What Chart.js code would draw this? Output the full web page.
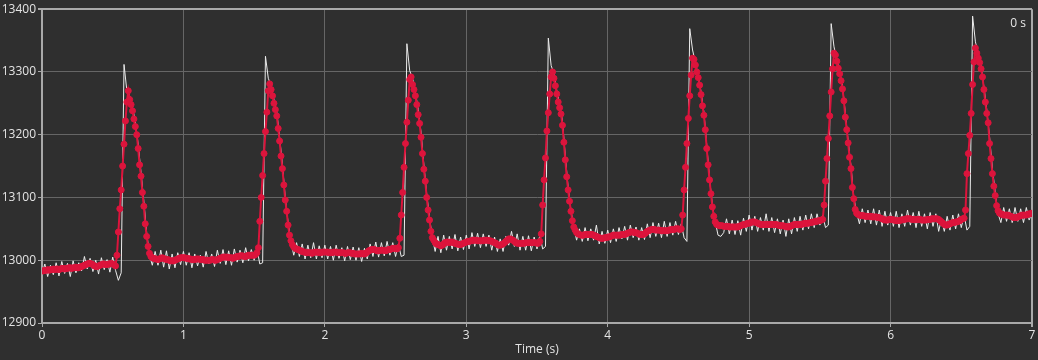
<!DOCTYPE html>
<html>
<head>
<meta charset="utf-8">
<script src="https://cdn.jsdelivr.net/npm/chart.js@4/dist/chart.umd.min.js"></script>
<style>
    html, body { margin: 0; padding: 0; background: #2f2f2f; }
    #wrap { width: 1038px; height: 360px; position: relative; }
</style>
</head>
<body>
<div id="wrap"><canvas id="signalChart"></canvas></div>
<script>
// Sample spacing in seconds
const redStep = 0.01;
const whiteStep = 0.02;

// Axis ticks
const xTicks = [0, 1, 2, 3, 4, 5, 6, 7];
const yTicks = [12900, 13000, 13100, 13200, 13300, 13400];

// Filtered signal (red), one array per second, 0.01 s apart
const red0 = [
    12983, 12983, 12984, 12984, 12985, 12984, 12985, 12985, 12986, 12985,
    12986, 12986, 12985, 12986, 12987, 12987, 12986, 12987, 12987, 12988,
    12988, 12987, 12988, 12988, 12989, 12988, 12988, 12989, 12990, 12991,
    12992, 12993, 12994, 12995, 12995, 12994, 12993, 12991, 12990, 12990,
    12991, 12992, 12993, 12994, 12994, 12993, 12993, 12994, 12994, 12995,
    12994, 12993, 12991, 13008, 13045, 13082, 13112, 13150, 13185, 13222,
    13252, 13270, 13256, 13248, 13238, 13225, 13213, 13200, 13178, 13152,
    13134, 13108, 13086, 13058, 13038, 13022, 13011, 13006, 13004, 13003,
    13002, 13002, 13001, 13002, 13003, 13004, 13003, 13002, 13001, 13001,
    13000, 12999, 12999, 12999, 13000, 13001, 13002, 13003, 13004, 13004
];
const red1 = [
    13004, 13004, 13003, 13003, 13002, 13002, 13001, 13001, 13001, 13002,
    13002, 13002, 13001, 13001, 13001, 13000, 13000, 13000, 13000, 13000,
    13001, 13001, 13000, 13000, 13001, 13002, 13003, 13004, 13005, 13005,
    13005, 13005, 13004, 13004, 13004, 13003, 13004, 13005, 13006, 13006,
    13007, 13007, 13007, 13006, 13006, 13007, 13008, 13008, 13008, 13008,
    13008, 13009, 13012, 13020, 13062, 13100, 13135, 13170, 13205, 13236,
    13270, 13281, 13272, 13262, 13250, 13240, 13230, 13210, 13190, 13166,
    13146, 13120, 13096, 13078, 13056, 13040, 13031, 13025, 13021, 13019,
    13018, 13017, 13016, 13015, 13014, 13013, 13013, 13012, 13012, 13012,
    13012, 13011, 13012, 13013, 13013, 13013, 13012, 13012, 13013, 13013
];
const red2 = [
    13013, 13013, 13013, 13012, 13012, 13012, 13013, 13013, 13013, 13012,
    13012, 13012, 13012, 13012, 13011, 13011, 13012, 13012, 13012, 13011,
    13011, 13010, 13010, 13010, 13010, 13010, 13011, 13010, 13010, 13011,
    13013, 13015, 13016, 13017, 13017, 13017, 13016, 13015, 13015, 13016,
    13016, 13016, 13016, 13015, 13016, 13017, 13017, 13018, 13019, 13019,
    13019, 13018, 13020, 13035, 13072, 13108, 13148, 13186, 13220, 13255,
    13288, 13292, 13280, 13272, 13262, 13248, 13232, 13218, 13196, 13170,
    13145, 13126, 13100, 13080, 13064, 13046, 13036, 13032, 13028, 13026,
    13025, 13024, 13023, 13024, 13026, 13028, 13029, 13029, 13028, 13029,
    13029, 13028, 13027, 13026, 13026, 13025, 13025, 13026, 13027, 13028
];
const red3 = [
    13029, 13030, 13030, 13031, 13031, 13032, 13032, 13032, 13031, 13031,
    13031, 13031, 13031, 13032, 13032, 13032, 13031, 13031, 13030, 13029,
    13028, 13027, 13025, 13024, 13024, 13025, 13026, 13028, 13030, 13032,
    13034, 13034, 13033, 13032, 13030, 13028, 13027, 13027, 13027, 13027,
    13027, 13027, 13028, 13028, 13028, 13028, 13028, 13028, 13028, 13028,
    13027, 13027, 13030, 13042, 13088, 13128, 13163, 13206, 13235, 13265,
    13292, 13300, 13290, 13278, 13265, 13252, 13243, 13233, 13215, 13188,
    13160, 13133, 13112, 13094, 13078, 13063, 13053, 13048, 13044, 13042,
    13041, 13040, 13040, 13040, 13041, 13041, 13041, 13041, 13041, 13041,
    13040, 13039, 13038, 13037, 13036, 13035, 13035, 13035, 13036, 13036
];
const red4 = [
    13037, 13037, 13038, 13039, 13040, 13040, 13040, 13040, 13040, 13040,
    13041, 13041, 13041, 13042, 13043, 13044, 13045, 13045, 13045, 13044,
    13044, 13043, 13042, 13041, 13041, 13041, 13042, 13044, 13046, 13047,
    13048, 13049, 13049, 13049, 13048, 13048, 13048, 13048, 13047, 13047,
    13047, 13047, 13047, 13048, 13048, 13049, 13049, 13049, 13050, 13050,
    13050, 13049, 13050, 13072, 13112, 13148, 13186, 13226, 13262, 13295,
    13322, 13320, 13311, 13300, 13291, 13279, 13264, 13246, 13231, 13208,
    13178, 13152, 13128, 13106, 13085, 13070, 13061, 13057, 13056, 13055,
    13055, 13055, 13054, 13054, 13054, 13054, 13053, 13053, 13053, 13053,
    13053, 13053, 13053, 13054, 13055, 13056, 13057, 13057, 13058, 13059
];
const red5 = [
    13059, 13060, 13061, 13061, 13061, 13060, 13059, 13058, 13057, 13057,
    13057, 13057, 13057, 13057, 13057, 13057, 13057, 13057, 13057, 13057,
    13056, 13056, 13055, 13055, 13055, 13054, 13054, 13053, 13053, 13054,
    13055, 13056, 13057, 13057, 13057, 13057, 13057, 13057, 13058, 13058,
    13059, 13059, 13059, 13060, 13060, 13061, 13061, 13062, 13062, 13063,
    13063, 13064, 13065, 13088, 13126, 13162, 13194, 13230, 13268, 13305,
    13330, 13327, 13317, 13306, 13297, 13286, 13273, 13254, 13228, 13208,
    13187, 13164, 13146, 13116, 13098, 13081, 13075, 13073, 13072, 13071,
    13071, 13071, 13070, 13070, 13070, 13070, 13070, 13069, 13069, 13069,
    13069, 13068, 13068, 13067, 13066, 13065, 13064, 13064, 13064, 13065
];
const red6 = [
    13065, 13065, 13064, 13064, 13063, 13063, 13063, 13064, 13064, 13065,
    13065, 13066, 13066, 13066, 13066, 13065, 13065, 13065, 13065, 13065,
    13065, 13065, 13064, 13064, 13064, 13064, 13065, 13065, 13065, 13066,
    13066, 13066, 13066, 13066, 13065, 13063, 13061, 13059, 13057, 13056,
    13056, 13057, 13058, 13059, 13060, 13060, 13061, 13061, 13062, 13063,
    13065, 13066, 13067, 13080, 13138, 13170, 13199, 13234, 13280, 13316,
    13338, 13330, 13322, 13315, 13305, 13292, 13272, 13252, 13234, 13219,
    13186, 13162, 13138, 13118, 13103, 13087, 13079, 13075, 13074, 13073,
    13072, 13072, 13072, 13072, 13071, 13070, 13069, 13068, 13068, 13068,
    13069, 13070, 13071, 13072, 13072, 13072, 13072, 13073, 13074, 13074
];
const redEnd = [13075];

// Raw signal (white), one array per second, 0.02 s apart
const white0 = [
    12978, 12994, 12974, 12992, 12977, 12996, 12975, 12998, 12979, 12995,
    12974, 12999, 12980, 12996, 12983, 13006, 12986, 13003, 12982, 13000,
    12978, 13004, 12985, 13001, 12981, 13005, 12984, 12968, 12980, 13312,
    13270, 13262, 13244, 13220, 13185, 13140, 13094, 13044, 13008, 12992,
    13014, 12992, 13016, 12989, 13015, 12986, 13010, 12988, 13012, 12993
];
const white1 = [
    13014, 12992, 13012, 12988, 13010, 12991, 13008, 12989, 13014, 12994,
    13010, 12990, 13016, 12995, 13017, 12993, 13015, 12992, 13018, 12997,
    13016, 12996, 13020, 12999, 13017, 13000, 13018, 12994, 12996, 13325,
    13290, 13278, 13256, 13236, 13196, 13152, 13100, 13060, 13030, 13008,
    13028, 13006, 13026, 13002, 13024, 13004, 13028, 13002, 13023, 13004
];
const white2 = [
    13024, 13002, 13022, 13000, 13024, 13003, 13020, 12999, 13022, 13001,
    13021, 13000, 13020, 12998, 13019, 13002, 13026, 13006, 13029, 13005,
    13028, 13007, 13030, 13008, 13028, 13006, 13026, 13006, 13008, 13345,
    13302, 13290, 13268, 13240, 13204, 13152, 13106, 13068, 13036, 13014,
    13038, 13012, 13040, 13016, 13038, 13018, 13041, 13015, 13037, 13017
];
const white3 = [
    13040, 13018, 13044, 13022, 13043, 13020, 13042, 13022, 13040, 13016,
    13037, 13014, 13034, 13014, 13038, 13024, 13046, 13022, 13042, 13016,
    13038, 13016, 13039, 13015, 13037, 13018, 13040, 13018, 13022, 13354,
    13310, 13298, 13270, 13248, 13222, 13166, 13116, 13080, 13052, 13032,
    13050, 13030, 13052, 13031, 13050, 13032, 13056, 13026, 13046, 13027
];
const white4 = [
    13048, 13028, 13050, 13030, 13052, 13034, 13054, 13032, 13056, 13036,
    13053, 13032, 13052, 13033, 13058, 13036, 13060, 13038, 13059, 13036,
    13062, 13038, 13060, 13040, 13062, 13041, 13058, 13036, 13030, 13369,
    13335, 13315, 13294, 13268, 13236, 13184, 13130, 13088, 13062, 13040,
    13038, 13044, 13066, 13042, 13064, 13041, 13063, 13040, 13067, 13046
];
const white5 = [
    13072, 13048, 13070, 13046, 13068, 13048, 13074, 13046, 13068, 13044,
    13066, 13042, 13064, 13038, 13066, 13042, 13068, 13046, 13070, 13048,
    13072, 13050, 13074, 13052, 13074, 13056, 13072, 13052, 13056, 13377,
    13340, 13320, 13300, 13278, 13234, 13190, 13150, 13100, 13076, 13058,
    13082, 13060, 13080, 13058, 13082, 13056, 13080, 13054, 13078, 13056
];
const white6 = [
    13076, 13054, 13078, 13052, 13074, 13054, 13080, 13056, 13076, 13052,
    13078, 13054, 13074, 13050, 13076, 13054, 13074, 13046, 13066, 13046,
    13070, 13048, 13072, 13050, 13074, 13052, 13072, 13048, 13054, 13389,
    13348, 13328, 13310, 13276, 13240, 13196, 13146, 13108, 13074, 13060,
    13084, 13062, 13082, 13060, 13084, 13062, 13082, 13060, 13084, 13064
];
const whiteEnd = [13076];

const redValues = [].concat(red0, red1, red2, red3, red4, red5, red6, redEnd);
const whiteValues = [].concat(white0, white1, white2, white3, white4, white5, white6, whiteEnd);

function toPoints(values, step) {
    return values.map((v, i) => ({ x: Math.round(i * step * 1000) / 1000, y: v }));
}

const fontFamily = "'Segoe UI', 'Open Sans', sans-serif";
const textColor = '#e4e4e4';
const gridColor = '#666666';
const edgeColor = '#a9a9a9';

// "0 s" stamp in the upper right corner of the plot
const timeStamp = {
    id: 'timeStamp',
    afterDraw(chart) {
        const { ctx, chartArea } = chart;
        ctx.save();
        ctx.font = '12px ' + fontFamily;
        ctx.fillStyle = textColor;
        ctx.textAlign = 'right';
        ctx.textBaseline = 'alphabetic';
        ctx.fillText('0 s', chartArea.right - 6, chartArea.top + 18);
        ctx.restore();
    }
};

const ctx = document.getElementById('signalChart').getContext('2d');
new Chart(ctx, {
    type: 'line',
    data: {
        datasets: [
            {
                label: 'Filtered',
                data: toPoints(redValues, redStep),
                borderColor: '#dc143c',
                backgroundColor: '#dc143c',
                borderWidth: 2,
                pointRadius: 3,
                pointBorderWidth: 1,
                pointBackgroundColor: '#dc143c',
                pointBorderColor: '#dc143c',
                tension: 0,
                order: 0
            },
            {
                label: 'Raw',
                data: toPoints(whiteValues, whiteStep),
                borderColor: '#ececec',
                borderWidth: 1,
                pointRadius: 0,
                tension: 0,
                order: 1
            }
        ]
    },
    options: {
        responsive: true,
        maintainAspectRatio: false,
        animation: false,
        events: [],
        layout: {
            padding: { top: 9, right: 6, left: 0, bottom: 0 }
        },
        plugins: {
            legend: { display: false },
            tooltip: { enabled: false }
        },
        scales: {
            x: {
                type: 'linear',
                min: xTicks[0],
                max: xTicks[xTicks.length - 1],
                afterBuildTicks: (scale) => {
                    scale.ticks = xTicks.map(v => ({ value: v }));
                },
                afterFit: (scale) => {
                    scale.height = 37;
                },
                grid: {
                    color: (c) => (c.tick && c.tick.value === xTicks[xTicks.length - 1]) ? edgeColor : gridColor,
                    lineWidth: (c) => (c.tick && c.tick.value === xTicks[xTicks.length - 1]) ? 2 : 1,
                    tickColor: edgeColor,
                    tickLength: 4
                },
                border: { color: edgeColor, width: 2 },
                ticks: {
                    color: textColor,
                    padding: 1,
                    maxRotation: 0,
                    callback: (v) => String(v),
                    font: { family: fontFamily, size: 12 }
                },
                title: {
                    display: true,
                    text: 'Time (s)',
                    color: textColor,
                    padding: { top: 0, bottom: 3 },
                    font: { family: fontFamily, size: 12 }
                }
            },
            y: {
                type: 'linear',
                min: yTicks[0],
                max: yTicks[yTicks.length - 1],
                afterBuildTicks: (scale) => {
                    scale.ticks = yTicks.map(v => ({ value: v }));
                },
                afterFit: (scale) => {
                    scale.width = 42;
                },
                grid: {
                    color: (c) => (c.tick && c.tick.value === yTicks[yTicks.length - 1]) ? edgeColor : gridColor,
                    lineWidth: (c) => (c.tick && c.tick.value === yTicks[yTicks.length - 1]) ? 2 : 1,
                    tickColor: edgeColor,
                    tickLength: 4
                },
                border: { color: edgeColor, width: 2 },
                ticks: {
                    color: textColor,
                    padding: 2,
                    callback: (v) => String(v),
                    font: { family: fontFamily, size: 12 }
                }
            }
        }
    },
    plugins: [timeStamp]
});
</script>
</body>
</html>
